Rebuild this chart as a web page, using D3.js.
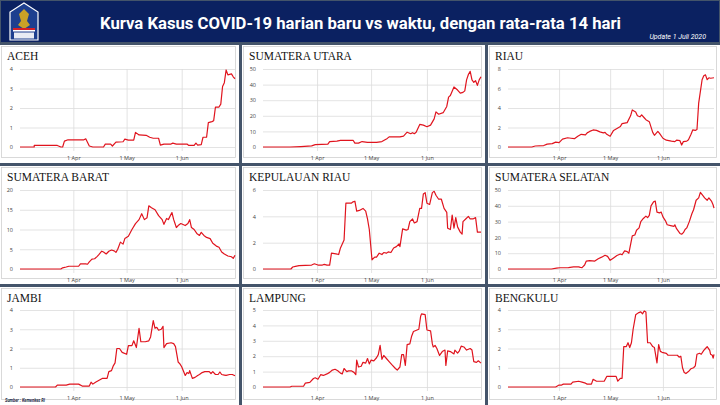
<!DOCTYPE html>
<html>
<head>
<meta charset="utf-8">
<script src="https://cdn.jsdelivr.net/npm/d3@7"></script>
<style>
  html, body { margin: 0; padding: 0; background: #44546a; }
  svg { display: block; }
</style>
</head>
<body>
<svg id="chart" width="720" height="405"></svg>
<script>
// provinces, in reading order
let provinces = ['ACEH', 'SUMATERA UTARA', 'RIAU', 'SUMATERA BARAT', 'KEPULAUAN RIAU',
  'SUMATERA SELATAN', 'JAMBI', 'LAMPUNG', 'BENGKULU'];
let yTickMax = [4, 50, 8, 20, 6, 50, 4, 5, 4];
let yTickStep = [1, 10, 2, 5, 2, 10, 1, 1, 1];
let monthTicks = ['2020-04-01', '2020-05-01', '2020-06-01'];
let monthLabels = ['1 Apr', '1 May', '1 Jun'];

// [days since 2 Mar 2020, 14-day average of new cases]
let aceh = [[0,0],[8,0],[8,0.08],[21,0.08],[23,0],[24,0],[25,0.3],[27,0.37],[36,0.37],[37,0.42],[39,0.05],[41,0],[47,0],[48,0.15],[51,0.15],[52,0.05],[54,0.25],[58,0.27],[59,0.4],[61,0.35],[64,0.35],[65,0.75],[67,0.62],[71,0.6],[73,0.5],[75,0.45],[78,0.45],[79,0.1],[81,0.15],[85,0.15],[86,0.2],[88,0.15],[94,0.15],[95,0.08],[98,0.08],[99,0.2],[100,0.1],[102,0.12],[103,0.5],[105,0.5],[106,1.25],[108,1.3],[109,1.35],[110,2.05],[112,2.05],[113,2.2],[114,3.1],[115,3.3],[116,3.95],[117,3.7],[119,3.75],[120,3.6],[121,3.5]];
let sumut = [[0,0],[15,0],[21,0.3],[27,0.7],[29,1.5],[36,1.8],[37,3.5],[41,3.8],[43,4.2],[50,4.3],[51,2.5],[53,2.5],[55,3.5],[58,3],[63,3],[66,3.5],[69,5.5],[70,6.5],[76,6.5],[78,7],[80,9.5],[82,8.5],[83,9.2],[84,8.5],[85,9.5],[87,14.5],[89,14],[91,13],[93,14],[95,18],[96,22.5],[97.5,21],[100,22],[102,26],[103,32],[104,33],[106,38.5],[108,36.5],[109.5,34.5],[111,35],[112,36],[113,43],[114,46.5],[115,48.5],[116,43],[117,41.5],[118,42.5],[119,39.5],[120,43],[121,45]];
let riau = [[0,0],[14,0],[16,0.1],[21,0.15],[23,0.3],[26,0.35],[28,0.5],[30,0.45],[32,0.8],[35,0.95],[37,0.9],[39,0.85],[41,1.1],[43,1.3],[45.5,1.25],[46.5,1.45],[48,1.6],[50,1.75],[52,1.7],[54,1.55],[56,1.45],[57,1.5],[58,1.3],[60,1.1],[62,1.7],[64,1.9],[66,2.1],[67,2.4],[70,2.5],[72,3.2],[73,3.8],[75,3.6],[76,3.2],[77.5,3.1],[78.5,3.3],[80,3],[81,2.8],[83,2.6],[85,1.5],[86,1.2],[88,1.6],[89,1.4],[91,0.9],[93,0.7],[96,0.6],[98,0.55],[99,0.7],[101,0.65],[102,0.2],[103,0.55],[105,0.6],[106,0.75],[107.5,1.3],[108.5,1.75],[110,1.7],[111,1.8],[112,4.5],[114,6.9],[115,7.3],[116,7.4],[117,6.9],[118,7.1],[119,7.05],[121,7.1]];
let sumbar = [[0,0],[23,0],[24,0.3],[26,0.5],[27.5,0.7],[33,0.7],[34,1.3],[37,1.3],[38,1.2],[39,1.8],[40.5,2.5],[42,2.6],[43.5,3.2],[44.5,3.7],[46,4.5],[47,4.3],[48.5,3.8],[50,4.5],[51.5,4.8],[53,4.6],[54,4.2],[55,5],[56.5,6.8],[58,6.3],[59,7.7],[61,8.3],[63,10],[65,11.5],[67,12.5],[68.5,14],[70,12.5],[71.5,13],[72.5,16],[74,15.5],[76,15],[78,13.5],[80,12.5],[81,11.3],[82.5,12.8],[83.5,12.5],[85.5,14.3],[86.5,12.5],[88,10.5],[89,11],[90.5,11.5],[93,11],[94.5,11.5],[95.5,12.5],[96.5,10.5],[98,10],[99.5,9],[101,8.5],[102,9.3],[103.5,8.5],[105,8],[107,7.7],[108.5,6.5],[110.5,5.8],[112,5.5],[113.5,4.3],[115,3.8],[117,3.3],[119,3.1],[120,2.7],[121,3.5]];
let kepri = [[0,0],[15.5,0],[16.5,0.15],[18,0.2],[20,0.25],[27,0.3],[28.5,0.4],[30.5,0.3],[33,0.3],[34,0.35],[35.5,0.3],[37,0.3],[38,1.2],[40.5,1.15],[42,1.1],[43,1.6],[45,2.2],[46,5],[48,5],[49,5],[50,5.1],[51,5.15],[52,4.4],[53.5,4.45],[55.5,4.6],[57,4.4],[58,3.8],[59,3],[60.5,0.7],[62,0.9],[63,0.9],[64.5,1.2],[66,1.1],[67,1.25],[68.5,1.2],[69.5,1.3],[71,1.25],[72.5,1.6],[74,1.7],[75.5,1.9],[76,1.7],[77.5,3.05],[79.5,2.95],[80.5,3],[81.5,3.6],[83,3.8],[84,3.5],[85.5,3.6],[87,4.6],[88,4.6],[89,5.7],[90,5.8],[91,5],[92.5,4.9],[94,5.8],[95,5.9],[96,5.6],[97.5,5.3],[99,5.3],[100.5,4.6],[102,4.3],[102.5,3.1],[104,3],[105,4.1],[106,3.1],[107,3.9],[108,3.2],[109.5,2.8],[110.5,2.65],[111,3.6],[112.5,3.8],[114,4],[115,3.8],[116.5,3.8],[118,3.9],[119,2.8],[121,2.8]];
let sumsel = [[0,0],[25.5,0],[28.5,0.5],[30.5,0.8],[35.5,0.9],[38.5,1.3],[41.5,1.3],[42.5,1],[43.5,0.9],[45,2.5],[46,5],[48,5.3],[51,5],[53,6.5],[55,7.5],[57,8.7],[58.5,8],[60,5.5],[62,7],[64,8.5],[66,9.5],[67,9],[68.5,11.5],[70,11],[71,10],[73,21],[74.5,21.5],[75.5,24.5],[77,26],[78,30],[79.5,32],[81,33.5],[82,32.5],[83,34],[84,40],[85.5,42.5],[86.5,43],[87.5,36],[89,35.5],[90,36],[91,33],[92.5,30.5],[93.5,28],[95.5,27.5],[97.5,27],[98,28],[99,25.5],[101,22.5],[102,22],[103,23],[104,25],[105,26],[106.5,30],[108,35],[109,37.5],[110.5,43.5],[112,45],[113,48.5],[114.5,46.5],[115.5,45],[117,43.5],[118,45],[119.5,43],[120.5,40.5],[121,38.5]];
let jambi = [[0,0],[20,0],[21,0.1],[26,0.1],[28,0.15],[33,0.15],[35,0.05],[39,0.05],[40,0.25],[41,0.15],[42.5,0.25],[44.5,0.35],[46.5,0.45],[49,0.45],[50,0.8],[51.5,0.85],[52.5,1.1],[53.5,1.25],[54.5,2],[56,2],[57.5,1.8],[60,1.7],[61,2.15],[63,2.15],[64,2.4],[65.5,2.05],[67,3.05],[68,2.35],[70.5,2.35],[72.5,2.4],[73.5,2.6],[75,3.45],[76,3.05],[77,3.1],[78,2.95],[79.5,3],[80.5,3.15],[81,2.05],[82.5,2.25],[85,2.3],[86.5,2.25],[87.5,2.1],[89,1.3],[90,1.2],[91,1.05],[93,0.6],[94,0.75],[95,0.7],[95.5,0.85],[97,0.45],[98.5,0.5],[100,0.6],[101,0.65],[102.5,0.75],[104,0.8],[106.5,0.8],[107.5,0.7],[108.5,0.8],[110,0.65],[111.5,0.65],[112.5,0.78],[113.5,0.65],[115,0.62],[116,0.6],[118,0.65],[119.5,0.65],[121,0.58]];
let lampung = [[0,0],[15,0],[16,0.05],[22.5,0.05],[23.5,0.25],[26,0.3],[28,0.55],[29,0.6],[30.5,0.5],[32,0.8],[33.5,0.75],[35.5,0.85],[37,0.95],[38.5,1.1],[40,1.15],[41.5,1.05],[43,0.9],[44,0.85],[45,1.2],[46.5,1],[47.5,1.05],[49,1.05],[50.5,0.95],[51.5,0.8],[52,1.75],[53,1.3],[54.5,1.35],[55.5,1.6],[57,1.55],[58,1.85],[59,1.5],[60,1.75],[61.5,1.7],[63,1.9],[64,2.1],[65,2.7],[66,1.8],[67,2.05],[68.5,1.85],[70,1.65],[71.5,1.45],[73.5,1.2],[74.5,1.1],[76,1.3],[77,2.1],[78,2.1],[79,1.4],[80,2.75],[81.5,2.8],[82.5,3.3],[83.5,3.6],[85.5,3.7],[86.5,3.75],[87.5,4.6],[88,4.75],[90,4.7],[91,3.7],[93,3.65],[94,2.8],[94.5,2.6],[95.5,2.7],[96.5,2.5],[98,2.05],[99.5,2.3],[101,2.4],[101.5,1.4],[102.5,2.35],[104,2.3],[106,2.15],[106.5,2.4],[108,2.2],[109,2.35],[110,2.65],[111.5,2.6],[113,2.4],[115,2.5],[116,2.4],[117,1.65],[118.5,1.6],[119.5,1.7],[121,1.55]];
let bengkulu = [[0,0],[28,0],[29,0.05],[30,0.1],[31.5,0.1],[32.5,0.15],[37,0.15],[38,0.25],[41.5,0.3],[43.5,0.25],[45.5,0.2],[46.5,0.15],[49,0.15],[50,0.4],[52,0.3],[54,0.3],[56.5,0.3],[58,0.55],[61,0.55],[63.5,0.55],[64.5,0.3],[66,0.45],[67,0.45],[68,2.1],[69.5,2.1],[70.5,2.3],[71.5,2.05],[72.5,2.3],[73.5,3],[75,3.75],[76.5,3.85],[78,3.9],[79,3.8],[80,3.95],[81,3.9],[82,2.3],[83.5,2.3],[85,2.1],[86,2.05],[87.5,1.25],[88.5,2.2],[89.5,1.85],[90.5,1.8],[93,1.75],[94,1.65],[97,1.65],[99.5,1.65],[100.5,1.55],[101.5,1.6],[102.5,1],[103.5,0.75],[104.5,0.7],[106,0.8],[107.5,0.95],[109,1],[110,1.1],[111,1.7],[112.5,1.75],[113.5,1.7],[115,1.9],[116,2],[117,2.1],[118.5,1.9],[119,1.7],[120,1.65],[120.5,1.5],[121,1.7]];

let series = [aceh, sumut, riau, sumbar, kepri, sumsel, jambi, lampung, bengkulu];

let startDate = new Date(2020, 2, 2);
let endDate = new Date(2020, 6, 1);
let toDate = d => d3.timeHour.offset(startDate, Math.round(d * 24));

// layout of the 3x3 grid
let colX = [0, 242, 488];
let colRight = [239, 485, 720];
let rowY = [45, 166, 287];
let rowBottom = [163, 284, 405];
let plotX = [[20, 235], [263, 481], [508, 714]];
let plotY = [[69, 147], [190, 269], [310, 387]];

let svg = d3.select('#chart');

svg.append('rect')
  .attr('width', 720).attr('height', 405)
  .style('fill', '#44546a');

// header band
svg.append('rect')
  .attr('x', 1).attr('y', 1).attr('width', 718).attr('height', 41)
  .style('fill', '#0b2161');

// logo, rough shape
let logo = svg.append('g').attr('transform', 'translate(10,3)');
logo.append('path')
  .attr('d', 'M14,0 L28,9 L28,37 L0,37 L0,9 Z')
  .style('fill', '#1d3f8f').style('stroke', '#ffffff').style('stroke-width', 1.2);
logo.append('path')
  .attr('d', 'M14,6 L19,11 L17,18 L20,22 L14,26 L8,22 L11,18 L9,11 Z')
  .style('fill', '#c9a227');
logo.append('rect').attr('x', 3).attr('y', 25).attr('width', 22).attr('height', 2).style('fill', '#d32027');
logo.append('rect').attr('x', 3).attr('y', 27).attr('width', 22).attr('height', 1.5).style('fill', '#ffffff');
logo.append('rect').attr('x', 4).attr('y', 29.5).attr('width', 20).attr('height', 6).style('fill', '#e8ecf4');

svg.append('text')
  .attr('x', 100).attr('y', 29)
  .attr('textLength', 521).attr('lengthAdjust', 'spacingAndGlyphs')
  .style('font-family', 'Roboto, "Open Sans", sans-serif')
  .style('font-weight', 'bold')
  .style('font-size', '17px')
  .style('fill', '#ffffff')
  .text('Kurva Kasus COVID-19 harian baru vs waktu, dengan rata-rata 14 hari');

svg.append('text')
  .attr('x', 706).attr('y', 39)
  .attr('text-anchor', 'end')
  .style('font-family', 'Roboto, sans-serif')
  .style('font-style', 'italic')
  .style('font-size', '7px')
  .style('fill', '#ffffff')
  .text('Update 1 Juli 2020');

provinces.forEach((name, i) => {
  let c = i % 3;
  let r = Math.floor(i / 3);

  let panel = svg.append('g').attr('class', 'panel');

  panel.append('rect')
    .attr('x', colX[c]).attr('y', rowY[r])
    .attr('width', colRight[c] - colX[c]).attr('height', rowBottom[r] - rowY[r])
    .style('fill', '#ffffff');

  panel.append('rect')
    .attr('x', colX[c] + 1.5).attr('y', rowY[r] + 1.5)
    .attr('width', colRight[c] - colX[c] - 5).attr('height', rowBottom[r] - rowY[r] - 7)
    .style('fill', 'none')
    .style('stroke', '#d0d0d0')
    .style('stroke-width', 0.8);

  panel.append('text')
    .attr('x', colX[c] + 7).attr('y', rowY[r] + 15)
    .style('font-family', '"Liberation Serif", "Times New Roman", serif')
    .style('font-size', '11.5px')
    .style('fill', '#111111')
    .text(name);

  let x = d3.scaleTime().domain([startDate, endDate]).range(plotX[c]);
  let y = d3.scaleLinear().domain([0, yTickMax[i]]).range([plotY[r][1], plotY[r][0]]);
  let yTicks = d3.range(0, yTickMax[i] + yTickStep[i] / 2, yTickStep[i]);
  let xTicks = monthTicks.map(d => d3.timeParse('%Y-%m-%d')(d));

  // horizontal grid + labels
  let yAxis = d3.axisLeft(y)
    .tickValues(yTicks)
    .tickSize(-(plotX[c][1] - plotX[c][0]))
    .tickPadding(7)
    .tickFormat(d3.format('d'));

  panel.append('g')
    .attr('transform', `translate(${plotX[c][0]},0)`)
    .call(yAxis)
    .call(g => g.select('.domain').remove())
    .call(g => g.selectAll('line').style('stroke', '#dcdcdc').style('stroke-width', 0.8))
    .call(g => g.selectAll('text')
      .style('font-family', '"Open Sans", sans-serif')
      .style('font-size', '5.5px')
      .style('fill', '#444'));

  // vertical grid + month labels
  let xAxis = d3.axisBottom(x)
    .tickValues(xTicks)
    .tickSize(-(plotY[r][1] - plotY[r][0]) - 4)
    .tickPadding(5)
    .tickFormat((d, j) => monthLabels[j]);

  panel.append('g')
    .attr('transform', `translate(0,${plotY[r][1] + 4})`)
    .call(xAxis)
    .call(g => g.select('.domain').remove())
    .call(g => g.selectAll('line').style('stroke', '#dcdcdc').style('stroke-width', 0.8))
    .call(g => g.selectAll('text')
      .style('font-family', '"Open Sans", sans-serif')
      .style('font-size', '5.5px')
      .style('fill', '#444'));

  let line = d3.line()
    .x(d => x(toDate(d[0])))
    .y(d => y(d[1]));

  panel.append('path')
    .datum(series[i])
    .attr('d', line)
    .style('fill', 'none')
    .style('stroke', '#e0141e')
    .style('stroke-width', 1.2)
    .style('stroke-linejoin', 'round');
});

svg.append('text')
  .attr('x', 5).attr('y', 402)
  .attr('textLength', 40).attr('lengthAdjust', 'spacingAndGlyphs')
  .style('font-family', 'Roboto, sans-serif')
  .style('font-style', 'italic')
  .style('font-weight', 'bold')
  .style('font-size', '6px')
  .style('fill', '#1a1f45')
  .text('Sumber : Kemenkes RI');
</script>
</body>
</html>
